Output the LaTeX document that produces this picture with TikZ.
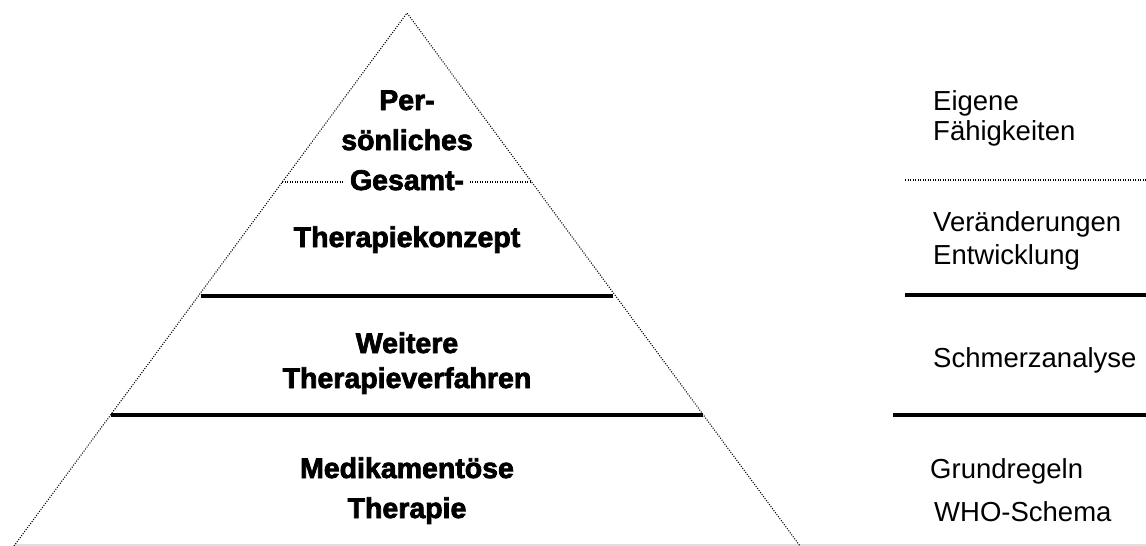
\documentclass[tikz,border=0pt]{standalone}
\usepackage{fontspec}
\setmainfont{Liberation Sans}[BoldFeatures={FakeBold=2.6}]
\usetikzlibrary{calc}
\begin{document}
\begin{tikzpicture}[x=1pt,y=-1pt,
  dotline/.style={line width=1.1pt, dash pattern=on 1pt off 1.5pt},
  rule/.style={line width=3.5pt},
  lbl/.style={font=\fontsize{28.5}{28.5}\selectfont\bfseries, anchor=base, inner sep=0pt},
  rlbl/.style={font=\fontsize{27.5}{27.5}\selectfont, anchor=base west, inner sep=0pt}]
\useasboundingbox (0,0) rectangle (1146,546);
% faint base (scan edge)
\coordinate (b0) at (14,545);
\coordinate (b1) at (1146,545);
\draw[gray!25, line width=1.5pt] (b0) -- (b1);
% pyramid
\coordinate (apex) at (407,13);
\coordinate (bl) at (14,546);
\coordinate (br) at (800,546);
\draw[dotline] (bl) -- (apex) -- (br);
\coordinate (d1l) at ($(apex)!0.317!(bl)$);
\coordinate (d1r) at ($(apex)!0.317!(br)$);
\coordinate (t1l) at ($(apex)!0.531!(bl)+(3,0)$);
\coordinate (t1r) at ($(apex)!0.531!(br)+(-3,0)$);
\coordinate (t2l) at ($(apex)!0.754!(bl)$);
\coordinate (t2r) at ($(apex)!0.754!(br)$);
\draw[dotline] (d1l) -- (d1r);
\draw[rule] (t1l) -- (t1r);
\draw[rule] (t2l) -- (t2r);
% right column rules
\coordinate (r1a) at (905,180);
\coordinate (r1b) at (1146,180);
\coordinate (r2a) at (905,295);
\coordinate (r2b) at (1146,295);
\coordinate (r3a) at (893,415);
\coordinate (r3b) at (1146,415);
\draw[dotline] (r1a) -- (r1b);
\draw[rule] (r2a) -- (r2b);
\draw[rule] (r3a) -- (r3b);
% pyramid labels
\node[lbl] (p1) at (407,110) {Per-};
\node[lbl] (p2) at (407,150) {sönliches};
\node[lbl, fill=white, inner xsep=6pt, inner ysep=2pt] (p3) at (407,190) {Gesamt-};
\node[lbl] (p4) at (407,247) {Therapiekonzept};
\node[lbl] (w1) at (407,353) {Weitere};
\node[lbl] (w2) at (407,388) {Therapieverfahren};
\node[lbl] (m1) at (407,478) {Medikamentöse};
\node[lbl] (m2) at (407,518) {Therapie};
% right labels
\node[rlbl] (e1) at (933,110) {Eigene};
\node[rlbl] (e2) at (933,140) {Fähigkeiten};
\node[rlbl] (v1) at (933,231) {Veränderungen};
\node[rlbl] (v2) at (933,264) {Entwicklung};
\node[rlbl] (s1) at (933,367) {Schmerzanalyse};
\node[rlbl] (g1) at (930,478) {Grundregeln};
\node[rlbl] (g2) at (934,521) {WHO-Schema};
\end{tikzpicture}
\end{document}
